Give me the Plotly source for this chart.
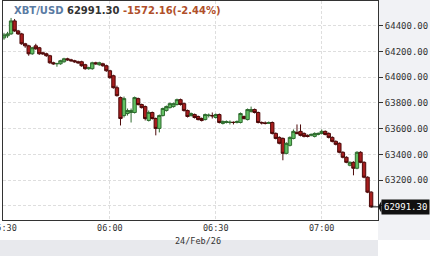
import pandas as pd
import plotly.graph_objects as go

# 1-minute candles, 24/Feb/26 05:29 .. 07:14
start_time = "2026-02-24 05:29"
open_ = [64284, 64307, 64323, 64338, 64439, 64361, 64338, 64261, 64245, 64183,
         64245, 64230, 64191, 64183, 64168, 64113, 64105, 64105, 64121, 64144,
         64136, 64129, 64121, 64121, 64098, 64067, 64067, 64113, 64098, 64105,
         64090, 64051, 64012, 63919, 63842, 63702, 63718, 63726, 63726, 63834,
         63788, 63772, 63664, 63726, 63679, 63602, 63702, 63741, 63764, 63772,
         63788, 63826, 63795, 63741, 63702, 63710, 63695, 63679, 63671, 63702,
         63702, 63687, 63710, 63641, 63648, 63648, 63650, 63648, 63648, 63695,
         63671, 63733, 63749, 63726, 63648, 63645, 63641, 63648, 63563, 63532,
         63524, 63408, 63470, 63524, 63571, 63579, 63563, 63548, 63548, 63540,
         63555, 63563, 63579, 63563, 63532, 63501, 63486, 63416, 63377, 63315,
         63338, 63292, 63416, 63338, 63222, 63106]
high = [64330, 64346, 64354, 64462, 64454, 64369, 64346, 64268, 64253, 64237,
        64261, 64237, 64199, 64191, 64175, 64121, 64113, 64136, 64152, 64152,
        64144, 64136, 64129, 64129, 64105, 64082, 64121, 64121, 64121, 64113,
        64098, 64059, 64020, 63935, 63850, 63850, 63757, 63757, 63850, 63842,
        63795, 63780, 63741, 63733, 63687, 63710, 63764, 63780, 63803, 63803,
        63834, 63834, 63803, 63749, 63726, 63718, 63702, 63687, 63718, 63718,
        63726, 63718, 63718, 63664, 63664, 63664, 63656, 63664, 63726, 63702,
        63757, 63772, 63757, 63733, 63656, 63656, 63656, 63656, 63571, 63540,
        63532, 63493, 63540, 63594, 63633, 63633, 63571, 63555, 63563, 63571,
        63571, 63594, 63586, 63571, 63540, 63509, 63493, 63424, 63385, 63346,
        63346, 63424, 63424, 63346, 63229, 63113]
low = [64268, 64292, 64307, 64330, 64354, 64330, 64253, 64230, 64168, 64175,
       64214, 64175, 64175, 64160, 64105, 64098, 64082, 64098, 64113, 64129,
       64121, 64113, 64105, 64082, 64059, 64059, 64059, 64098, 64090, 64082,
       64043, 63989, 63912, 63850, 63625, 63687, 63702, 63648, 63718, 63780,
       63757, 63664, 63656, 63671, 63548, 63571, 63695, 63733, 63757, 63764,
       63780, 63780, 63733, 63687, 63695, 63679, 63664, 63656, 63664, 63687,
       63679, 63679, 63641, 63633, 63641, 63633, 63633, 63641, 63641, 63671,
       63664, 63726, 63718, 63641, 63633, 63633, 63641, 63555, 63517, 63478,
       63354, 63400, 63462, 63517, 63555, 63540, 63532, 63532, 63540, 63532,
       63548, 63555, 63548, 63524, 63493, 63470, 63408, 63369, 63331, 63307,
       63237, 63284, 63331, 63214, 63098, 62985]
close = [64315, 64330, 64338, 64439, 64361, 64338, 64261, 64245, 64183, 64230,
         64222, 64183, 64183, 64168, 64113, 64105, 64107, 64129, 64144, 64136,
         64129, 64121, 64113, 64090, 64067, 64074, 64113, 64105, 64113, 64090,
         64051, 63997, 63919, 63857, 63679, 63834, 63741, 63741, 63842, 63788,
         63764, 63679, 63726, 63679, 63602, 63702, 63757, 63772, 63795, 63795,
         63826, 63788, 63741, 63695, 63718, 63687, 63671, 63664, 63710, 63705,
         63700, 63710, 63648, 63656, 63656, 63650, 63648, 63656, 63718, 63679,
         63749, 63749, 63726, 63648, 63645, 63641, 63648, 63563, 63524, 63486,
         63408, 63486, 63532, 63579, 63563, 63548, 63540, 63540, 63555, 63563,
         63563, 63579, 63555, 63532, 63501, 63478, 63416, 63377, 63338, 63338,
         63292, 63416, 63338, 63222, 63106, 62991.30]

times = pd.date_range(start_time, periods=len(close), freq="min")

x_range = ["2026-02-24 05:29:43", "2026-02-24 07:15:57"]
y_range = [62889, 64594]
y_ticks = [63000, 63200, 63400, 63600, 63800, 64000, 64200, 64400]
last_price = close[-1]
title_symbol = "XBT/USD"
title_change = "-1572.16(-2.44%)"
date_label = "24/Feb/26"

MONO = "DejaVu Sans Mono"

fig = go.Figure()
fig.add_trace(go.Candlestick(
    x=times, open=open_, high=high, low=low, close=close,
    increasing=dict(line=dict(color="#2f6b2f", width=1), fillcolor="#62c062"),
    decreasing=dict(line=dict(color="#4d0a0a", width=1), fillcolor="#a81e1e"),
    whiskerwidth=0, showlegend=False, hoverinfo="skip",
))

fig.update_layout(
    width=430, height=256,
    margin=dict(l=3, r=52, t=1, b=36),
    paper_bgcolor="white", plot_bgcolor="white",
    showlegend=False,
    boxgap=0.05, boxgroupgap=0,
    xaxis=dict(
        type="date", range=x_range, rangeslider=dict(visible=False),
        automargin=False,
        tick0="2026-02-24 05:30", dtick=30 * 60 * 1000, tickformat="%H:%M",
        showgrid=True, gridcolor="#dedede", griddash="3px,2px", gridwidth=1,
        showline=True, linecolor="#333333", linewidth=1, mirror=True,
        ticks="", ticklabeloverflow="allow",
        tickfont=dict(family=MONO, size=8.5, color="#333333"),
        zeroline=False,
    ),
    yaxis=dict(
        side="right", range=y_range, tickvals=y_ticks, tickformat=".2f",
        automargin=False,
        showgrid=True, gridcolor="#dedede", griddash="3px,2px", gridwidth=1,
        showline=True, linecolor="#333333", linewidth=1, mirror=True,
        ticks="outside", ticklen=4, tickcolor="#333333",
        tickfont=dict(family=MONO, size=9, color="#333333"),
        zeroline=False,
    ),
)

# right grey strip and bottom date band
fig.add_shape(type="rect", xref="paper", yref="paper", x0=1, x1=1.2, y0=-0.0913, y1=1.01,
              fillcolor="#f1f2f5", line=dict(width=0), layer="below")
fig.add_shape(type="rect", xref="paper", yref="paper", x0=-0.02, x1=1, y0=-0.0913, y1=-0.17,
              fillcolor="#e8e9ed", line=dict(width=0), layer="below")

fig.add_annotation(xref="paper", yref="paper", x=0.52, y=-0.128, text=date_label,
                   showarrow=False, font=dict(family=MONO, size=8.5, color="#333333"))

# title
fig.add_annotation(
    xref="paper", yref="paper", x=0.024, y=0.958, xanchor="left", yanchor="middle",
    showarrow=False, align="left",
    text=(f"<b><span style='color:#5a7ba3'>{title_symbol}</span> "
          f"<span style='color:#333333'>{last_price:.2f}</span> "
          f"<span style='color:#b04f2a'>{title_change}</span></b>"),
    font=dict(family="DejaVu Sans", size=10),
)

# last price line and label
fig.add_shape(type="line", xref="x", yref="y", x0=times[-1], x1=x_range[1],
              y0=last_price, y1=last_price, line=dict(color="#111111", width=1))
fig.add_shape(type="path", xref="paper", yref="y",
              path=f"M 1.0,{last_price} L 1.009,{last_price + 45} L 1.009,{last_price - 45} Z",
              fillcolor="#111111", line=dict(width=0))
fig.add_annotation(xref="paper", yref="y", x=1.008, y=last_price, xanchor="left",
                   text=f"{last_price:.2f}", showarrow=False, bgcolor="#111111",
                   borderpad=2, font=dict(family=MONO, size=9, color="white"))

fig.write_html("out.html")
